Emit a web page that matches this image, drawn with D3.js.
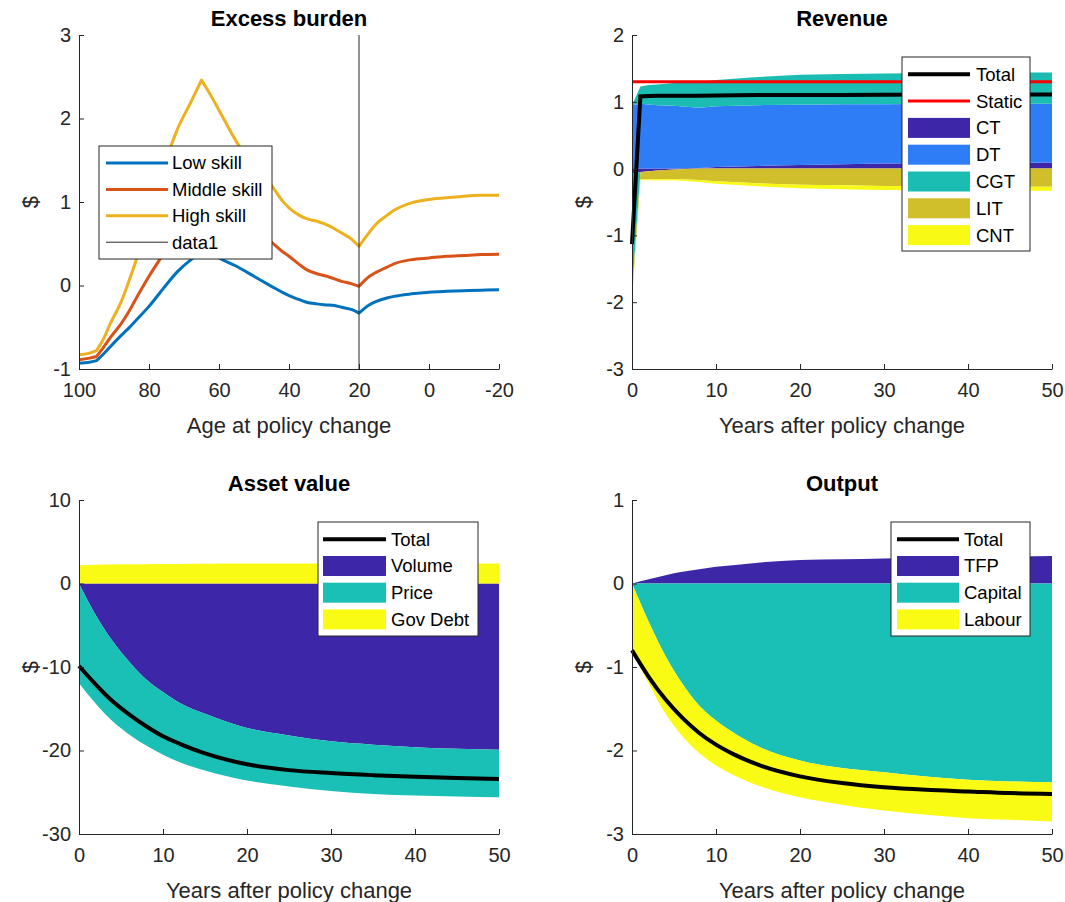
<!DOCTYPE html>
<html>
<head>
<meta charset="utf-8">
<script src="https://cdn.jsdelivr.net/npm/d3@7"></script>
<style>
  body { margin: 0; background: #fff; }
  svg text { font-family: "Liberation Sans", Arial, Helvetica, sans-serif; }
</style>
</head>
<body>
<div id="chart"></div>
<script>
// ---- Excess burden (age at policy change) ----
const ebAges = [100, 97, 95, 93, 91, 88, 86, 84, 80, 76, 72, 68, 65, 62, 60, 55, 50, 45, 42, 40, 37, 35, 32, 30, 27, 25, 22, 20, 17, 15, 12, 10, 5, 0, -5, -10, -15, -20];
const ebLow = [-0.93, -0.92, -0.90, -0.82, -0.73, -0.60, -0.52, -0.43, -0.25, -0.04, 0.16, 0.31, 0.40, 0.38, 0.33, 0.23, 0.11, -0.01, -0.08, -0.12, -0.17, -0.20, -0.22, -0.23, -0.24, -0.26, -0.29, -0.33, -0.23, -0.19, -0.15, -0.13, -0.10, -0.08, -0.07, -0.063, -0.057, -0.052];
const ebMiddle = [-0.89, -0.87, -0.85, -0.74, -0.62, -0.46, -0.33, -0.18, 0.11, 0.37, 0.62, 0.86, 1.00, 0.96, 0.92, 0.80, 0.68, 0.52, 0.41, 0.35, 0.25, 0.19, 0.14, 0.12, 0.08, 0.05, 0.02, -0.01, 0.11, 0.16, 0.22, 0.26, 0.31, 0.33, 0.35, 0.36, 0.37, 0.375];
const ebHigh = [-0.83, -0.81, -0.78, -0.64, -0.45, -0.20, 0.02, 0.26, 0.80, 1.38, 1.86, 2.20, 2.46, 2.25, 2.10, 1.72, 1.42, 1.20, 1.02, 0.93, 0.84, 0.80, 0.77, 0.74, 0.68, 0.63, 0.55, 0.47, 0.64, 0.74, 0.84, 0.90, 0.99, 1.03, 1.05, 1.07, 1.08, 1.08];
const ebKinkAges = [95, 65, 20];
const ebMarkerAge = 20;
const ebXTicks = [100, 80, 60, 40, 20, 0, -20];
const ebYTicks = [-1, 0, 1, 2, 3];

// ---- Revenue ----
const revYears = [0, 1, 2, 3, 5, 8, 10, 15, 20, 25, 30, 40, 50];
const revCT = [-0.07, -0.05, -0.04, -0.03, -0.015, 0.01, 0.025, 0.04, 0.055, 0.065, 0.075, 0.085, 0.09];
const revDT = [0.95, 0.97, 0.96, 0.95, 0.94, 0.90, 0.91, 0.91, 0.90, 0.90, 0.89, 0.89, 0.88];
const revCGT = [-1.78, 0.26, 0.29, 0.31, 0.34, 0.39, 0.39, 0.42, 0.45, 0.45, 0.46, 0.46, 0.47];
const revLIT = [-0.08, -0.11, -0.12, -0.13, -0.14, -0.17, -0.19, -0.22, -0.24, -0.25, -0.26, -0.27, -0.27];
const revCNT = [-0.05, -0.01, -0.015, -0.02, -0.02, -0.03, -0.035, -0.045, -0.055, -0.06, -0.06, -0.06, -0.06];
const revTotal = [-1.13, 1.08, 1.085, 1.09, 1.09, 1.09, 1.095, 1.10, 1.10, 1.10, 1.105, 1.11, 1.11];
const revStatic = [1.3, 1.3, 1.3, 1.3, 1.3, 1.3, 1.3, 1.3, 1.3, 1.3, 1.3, 1.3, 1.3];
const revYTicks = [-3, -2, -1, 0, 1, 2];

// ---- Asset value ----
const assetYears = [0, 2, 4, 6, 8, 10, 12, 15, 20, 25, 30, 35, 40, 45, 50];
const assetVolume = [0, -3.8, -6.9, -9.4, -11.5, -13.0, -14.3, -15.6, -17.3, -18.2, -18.9, -19.3, -19.6, -19.8, -19.9];
const assetPrice = [-11.95, -10.6, -9.6, -8.7, -7.9, -7.5, -7.1, -6.8, -6.3, -6.1, -5.95, -5.9, -5.8, -5.7, -5.7];
const assetGovDebt = [2.2, 2.25, 2.28, 2.3, 2.32, 2.34, 2.35, 2.37, 2.39, 2.4, 2.4, 2.4, 2.4, 2.4, 2.4];
const assetTotal = [-9.88, -12.1, -14.1, -15.7, -17.1, -18.3, -19.2, -20.35, -21.65, -22.35, -22.7, -22.95, -23.15, -23.3, -23.4];
const assetYTicks = [-30, -20, -10, 0, 10];

// ---- Output ----
const outYears = [0, 2, 4, 6, 8, 10, 12, 15, 20, 25, 30, 35, 40, 45, 50];
const outTFP = [0, 0.05, 0.10, 0.14, 0.17, 0.20, 0.22, 0.25, 0.28, 0.29, 0.30, 0.31, 0.32, 0.325, 0.33];
const outCapital = [0, -0.46, -0.87, -1.20, -1.46, -1.64, -1.78, -1.95, -2.12, -2.21, -2.26, -2.31, -2.35, -2.37, -2.38];
const outLabour = [-0.81, -0.74, -0.69, -0.63, -0.57, -0.54, -0.51, -0.47, -0.44, -0.44, -0.46, -0.46, -0.46, -0.46, -0.47];
const outTotal = [-0.80, -1.12, -1.39, -1.61, -1.79, -1.93, -2.04, -2.17, -2.31, -2.39, -2.44, -2.47, -2.49, -2.51, -2.52];
const outYTicks = [-3, -2, -1, 0, 1];

const yearTicks = [0, 10, 20, 30, 40, 50];

// MATLAB-ish colours
const LINE_COLORS = ['#0072BD', '#D95319', '#EDB120'];
const AREA5 = ['#3E26A8', '#2F7CF7', '#1BBDB3', '#D0BF2A', '#F8FA16'];
const AREA3 = ['#3E26A8', '#1ABFB5', '#F9FB15'];
const AXIS_COLOR = '#262626';

const W = 420, H = 334;

const svg = d3.select('#chart')
    .append('svg')
    .attr('width', 1065)
    .attr('height', 902);

// axes, title and labels for one panel
function makePanel(left, top, xScale, yScale, xTicks, yTicks, title, xLabel) {
    const g = svg.append('g').attr('transform', `translate(${left},${top})`);
    const plot = g.append('g');

    const xAxis = g.append('g')
        .attr('transform', `translate(0,${H})`)
        .call(d3.axisBottom(xScale).tickValues(xTicks).tickFormat(d => String(d))
            .tickSizeInner(-5).tickSizeOuter(0).tickPadding(14));
    const yAxis = g.append('g')
        .call(d3.axisLeft(yScale).tickValues(yTicks).tickFormat(d => String(d))
            .tickSizeInner(-5).tickSizeOuter(0).tickPadding(8));

    [xAxis, yAxis].forEach(a => {
        a.select('.domain').attr('stroke', AXIS_COLOR);
        a.selectAll('.tick line').attr('stroke', AXIS_COLOR);
        a.selectAll('.tick text')
            .attr('fill', AXIS_COLOR)
            .style('font-size', '20px');
    });

    g.append('text')
        .attr('x', W / 2)
        .attr('y', -17)
        .attr('text-anchor', 'middle')
        .attr('dy', '0.35em')
        .style('font-size', '22px')
        .style('font-weight', 'bold')
        .attr('fill', '#000')
        .text(title);

    g.append('text')
        .attr('x', W / 2)
        .attr('y', H + 56)
        .attr('text-anchor', 'middle')
        .attr('dy', '0.35em')
        .style('font-size', '22px')
        .attr('fill', AXIS_COLOR)
        .text(xLabel);

    g.append('text')
        .attr('transform', 'rotate(-90)')
        .attr('x', -H / 2)
        .attr('y', -49)
        .attr('text-anchor', 'middle')
        .attr('dy', '0.35em')
        .style('font-size', '22px')
        .attr('fill', AXIS_COLOR)
        .text('$');

    return { g, plot };
}

function addLegend(g, opt, items) {
    const lg = g.append('g').attr('transform', `translate(${opt.x},${opt.y})`);
    lg.append('rect')
        .attr('width', opt.w)
        .attr('height', opt.h)
        .attr('fill', '#fff')
        .attr('stroke', AXIS_COLOR)
        .attr('stroke-width', 1);
    items.forEach((it, i) => {
        const cy = opt.offset + i * opt.step;
        if (it.type === 'line') {
            lg.append('line')
                .attr('x1', opt.sw0).attr('x2', opt.sw1)
                .attr('y1', cy).attr('y2', cy)
                .attr('stroke', it.color)
                .attr('stroke-width', it.width);
        } else {
            lg.append('rect')
                .attr('x', opt.sw0)
                .attr('y', cy - 10)
                .attr('width', opt.sw1 - opt.sw0)
                .attr('height', 20)
                .attr('fill', it.color);
        }
        lg.append('text')
            .attr('x', opt.tx)
            .attr('y', cy)
            .attr('dy', '0.35em')
            .style('font-size', '18.5px')
            .attr('fill', '#000')
            .text(it.label);
    });
}

// split a set of series into positive and negative stacks (MATLAB style)
function drawStackedAreas(plot, years, keys, seriesArr, colors, xScale, yScale, curve) {
    const posRows = years.map((yr, i) => {
        const r = { year: yr };
        keys.forEach((k, j) => { r[k] = Math.max(seriesArr[j][i], 0); });
        return r;
    });
    const negRows = years.map((yr, i) => {
        const r = { year: yr };
        keys.forEach((k, j) => { r[k] = Math.min(seriesArr[j][i], 0); });
        return r;
    });
    const stack = d3.stack().keys(keys).order(d3.stackOrderNone).offset(d3.stackOffsetNone);
    const posLayers = stack(posRows);
    const negLayers = stack(negRows);

    const area = d3.area()
        .x(d => xScale(d.data.year))
        .y0(d => yScale(d[0]))
        .y1(d => yScale(d[1]))
        .curve(curve);

    keys.forEach((k, i) => {
        plot.append('path').attr('d', area(posLayers[i])).attr('fill', colors[i]);
        plot.append('path').attr('d', area(negLayers[i])).attr('fill', colors[i]);
    });
}

// smooth line that keeps sharp corners at the given x values
function kinkedPath(xs, ys, kinks, xScale, yScale) {
    const pts = xs.map((a, i) => [a, ys[i]]);
    const line = d3.line().x(d => xScale(d[0])).y(d => yScale(d[1])).curve(d3.curveMonotoneX);
    const ends = kinks.map(k => xs.indexOf(k)).concat([xs.length - 1]);
    let path = '';
    let start = 0;
    ends.forEach((end, k) => {
        let p = line(pts.slice(start, end + 1));
        if (k > 0) p = 'L' + p.slice(1);
        path += p;
        start = end;
    });
    return path;
}

// ===== Excess burden =====
(function () {
    const x = d3.scaleLinear().domain([100, -20]).range([0, W]);
    const y = d3.scaleLinear().domain([-1, 3]).range([H, 0]);
    const { g, plot } = makePanel(79, 35, x, y, ebXTicks, ebYTicks, 'Excess burden', 'Age at policy change');

    [ebLow, ebMiddle, ebHigh].forEach((s, i) => {
        plot.append('path')
            .attr('d', kinkedPath(ebAges, s, ebKinkAges, x, y))
            .attr('fill', 'none')
            .attr('stroke', LINE_COLORS[i])
            .attr('stroke-width', 3)
            .attr('stroke-linejoin', 'round');
    });

    plot.append('line')
        .attr('x1', x(ebMarkerAge)).attr('x2', x(ebMarkerAge))
        .attr('y1', y(3)).attr('y2', y(-1))
        .attr('stroke', AXIS_COLOR)
        .attr('stroke-width', 1);

    addLegend(g, { x: 20, y: 111, w: 173, h: 113, offset: 17, step: 26.4, sw0: 7, sw1: 69, tx: 73 }, [
        { type: 'line', label: 'Low skill', color: LINE_COLORS[0], width: 3 },
        { type: 'line', label: 'Middle skill', color: LINE_COLORS[1], width: 3 },
        { type: 'line', label: 'High skill', color: LINE_COLORS[2], width: 3 },
        { type: 'line', label: 'data1', color: AXIS_COLOR, width: 1 }
    ]);
})();

// ===== Revenue =====
(function () {
    const x = d3.scaleLinear().domain([0, 50]).range([0, W]);
    const y = d3.scaleLinear().domain([-3, 2]).range([H, 0]);
    const { g, plot } = makePanel(632, 35, x, y, yearTicks, revYTicks, 'Revenue', 'Years after policy change');

    const keys = ['CT', 'DT', 'CGT', 'LIT', 'CNT'];
    drawStackedAreas(plot, revYears, keys, [revCT, revDT, revCGT, revLIT, revCNT], AREA5, x, y, d3.curveLinear);

    const line = d3.line().x(d => x(d[0])).y(d => y(d[1]));
    plot.append('path')
        .attr('d', line(revYears.map((yr, i) => [yr, revStatic[i]])))
        .attr('fill', 'none').attr('stroke', '#FF0000').attr('stroke-width', 3);
    plot.append('path')
        .attr('d', line(revYears.map((yr, i) => [yr, revTotal[i]])))
        .attr('fill', 'none').attr('stroke', '#000').attr('stroke-width', 4);

    addLegend(g, { x: 270, y: 22, w: 128, h: 194, offset: 17.3, step: 26.8, sw0: 6, sw1: 68, tx: 74 }, [
        { type: 'line', label: 'Total', color: '#000', width: 4 },
        { type: 'line', label: 'Static', color: '#FF0000', width: 3 },
        { type: 'patch', label: 'CT', color: AREA5[0] },
        { type: 'patch', label: 'DT', color: AREA5[1] },
        { type: 'patch', label: 'CGT', color: AREA5[2] },
        { type: 'patch', label: 'LIT', color: AREA5[3] },
        { type: 'patch', label: 'CNT', color: AREA5[4] }
    ]);
})();

// ===== Asset value =====
(function () {
    const x = d3.scaleLinear().domain([0, 50]).range([0, W]);
    const y = d3.scaleLinear().domain([-30, 10]).range([H, 0]);
    const { g, plot } = makePanel(79, 500, x, y, yearTicks, assetYTicks, 'Asset value', 'Years after policy change');

    drawStackedAreas(plot, assetYears, ['Volume', 'Price', 'GovDebt'],
        [assetVolume, assetPrice, assetGovDebt], AREA3, x, y, d3.curveMonotoneX);

    const line = d3.line().x(d => x(d[0])).y(d => y(d[1])).curve(d3.curveMonotoneX);
    plot.append('path')
        .attr('d', line(assetYears.map((yr, i) => [yr, assetTotal[i]])))
        .attr('fill', 'none').attr('stroke', '#000').attr('stroke-width', 4);

    addLegend(g, { x: 239, y: 22, w: 160, h: 114, offset: 17.3, step: 26.7, sw0: 5, sw1: 68, tx: 73 }, [
        { type: 'line', label: 'Total', color: '#000', width: 4 },
        { type: 'patch', label: 'Volume', color: AREA3[0] },
        { type: 'patch', label: 'Price', color: AREA3[1] },
        { type: 'patch', label: 'Gov Debt', color: AREA3[2] }
    ]);
})();

// ===== Output =====
(function () {
    const x = d3.scaleLinear().domain([0, 50]).range([0, W]);
    const y = d3.scaleLinear().domain([-3, 1]).range([H, 0]);
    const { g, plot } = makePanel(632, 500, x, y, yearTicks, outYTicks, 'Output', 'Years after policy change');

    drawStackedAreas(plot, outYears, ['TFP', 'Capital', 'Labour'],
        [outTFP, outCapital, outLabour], AREA3, x, y, d3.curveMonotoneX);

    const line = d3.line().x(d => x(d[0])).y(d => y(d[1])).curve(d3.curveMonotoneX);
    plot.append('path')
        .attr('d', line(outYears.map((yr, i) => [yr, outTotal[i]])))
        .attr('fill', 'none').attr('stroke', '#000').attr('stroke-width', 4);

    addLegend(g, { x: 259, y: 22, w: 139, h: 114, offset: 17.3, step: 26.7, sw0: 6, sw1: 68, tx: 73 }, [
        { type: 'line', label: 'Total', color: '#000', width: 4 },
        { type: 'patch', label: 'TFP', color: AREA3[0] },
        { type: 'patch', label: 'Capital', color: AREA3[1] },
        { type: 'patch', label: 'Labour', color: AREA3[2] }
    ]);
})();
</script>
</body>
</html>
